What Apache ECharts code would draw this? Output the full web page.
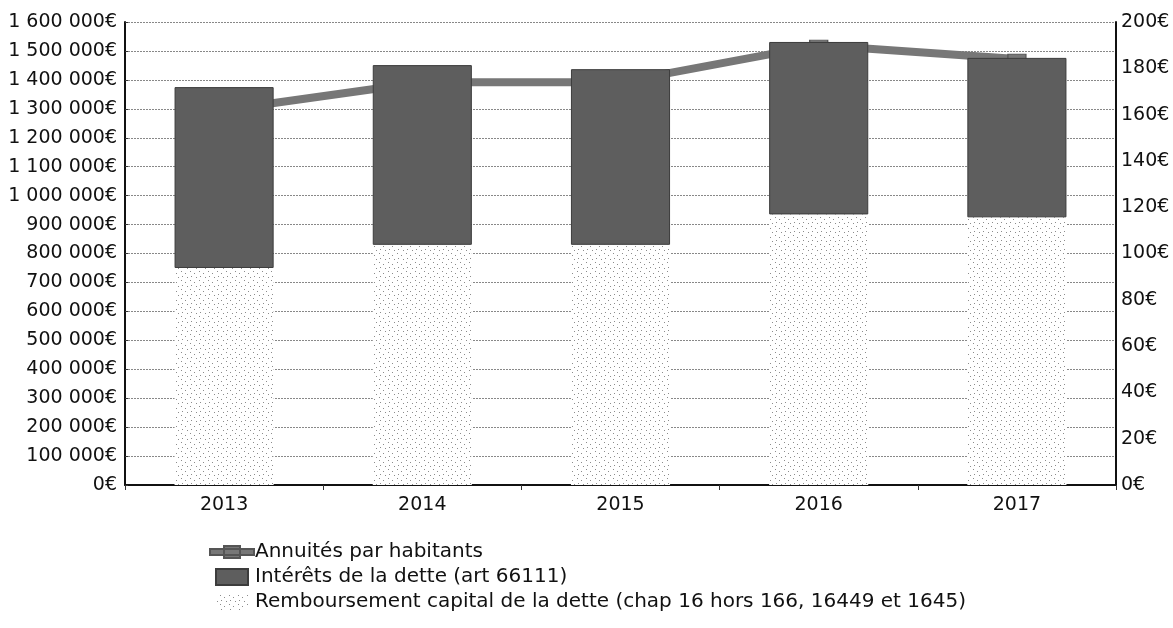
<!DOCTYPE html>
<html>
<head>
<meta charset="utf-8">
<script src="https://cdn.jsdelivr.net/npm/echarts@6/dist/echarts.min.js"></script>
<style>
  html, body { margin: 0; padding: 0; background: #fff; }
  #chart { width: 1173px; height: 628px; }
</style>
</head>
<body>
<div id="chart"></div>
<script>
var years = ['2013', '2014', '2015', '2016', '2017']
var capital = [750000, 830000, 830000, 935000, 925000]
var interets = [625000, 621000, 607000, 596000, 551000]
var annuites = [162, 174, 174, 190, 184]

var nameLine = 'Annuités par habitants'
var nameInt = 'Intérêts de la dette (art 66111)'
var nameCap = 'Remboursement capital de la dette (chap 16 hors 166, 16449 et 1645)'

function euros(v) {
  return String(v).replace(/\B(?=(\d{3})+(?!\d))/g, ' ') + '€'
}

// light dotted fill for the capital bars
function dotPattern() {
  var c = document.createElement('canvas')
  c.width = 9
  c.height = 9
  var ctx = c.getContext('2d')
  ctx.fillStyle = '#ffffff'
  ctx.fillRect(0, 0, 9, 9)
  ctx.fillStyle = '#8c8c8c'
  ctx.fillRect(1, 1, 1, 1)
  ctx.fillRect(5, 3, 1, 1)
  ctx.fillRect(2, 6, 1, 1)
  ctx.fillRect(7, 7, 1, 1)
  return c
}

var chart = echarts.init(document.getElementById('chart'))
var font = 'DejaVu Sans'

chart.setOption({
  animation: false,
  textStyle: { fontFamily: font },
  grid: { left: 125, right: 57, top: 22, bottom: 143 },
  legend: {
    orient: 'vertical',
    left: 204,
    top: 537,
    itemGap: 5,
    itemWidth: 44,
    itemHeight: 16,
    textStyle: { fontFamily: font, fontSize: 20, lineHeight: 20, color: '#111', padding: [0, 0, 0, -4] },
    data: [
      { name: nameLine, icon: 'path://M0,3H44V9H0Z M14,0H30V12H14Z' },
      { name: nameInt, icon: 'path://M6,0H38V16H6Z' },
      { name: nameCap, icon: 'path://M6,0H38V16H6Z' }
    ]
  },
  xAxis: {
    type: 'category',
    data: years,
    axisLine: { lineStyle: { color: '#111', width: 2 } },
    axisTick: { show: true, length: 5, lineStyle: { color: '#333' } },
    axisLabel: { fontSize: 19, color: '#111', margin: 11 },
    splitLine: { show: false }
  },
  yAxis: [
    {
      type: 'value',
      min: 0,
      max: 1600000,
      interval: 100000,
      axisLine: { show: true, lineStyle: { color: '#111', width: 2 } },
      axisTick: { show: true, inside: true, length: 3, lineStyle: { color: '#333' } },
      axisLabel: { fontSize: 19, color: '#111', margin: 8, formatter: euros },
      splitLine: { show: true, lineStyle: { color: '#888', type: [2, 1], width: 1 } }
    },
    {
      type: 'value',
      min: 0,
      max: 200,
      interval: 20,
      position: 'right',
      axisLine: { show: true, lineStyle: { color: '#111', width: 2 } },
      axisTick: { show: false },
      axisLabel: { fontSize: 19, color: '#111', margin: 5, formatter: '{value}€' },
      splitLine: { show: false }
    }
  ],
  series: [
    {
      name: nameLine,
      type: 'line',
      yAxisIndex: 1,
      z: 1,
      data: annuites,
      symbol: 'rect',
      symbolSize: [18, 10],
      lineStyle: { color: '#777', width: 8 },
      itemStyle: { color: '#777', borderColor: '#555', borderWidth: 1 }
    },
    {
      name: nameCap,
      type: 'bar',
      stack: 'dette',
      z: 3,
      barWidth: '50%',
      data: capital,
      itemStyle: { color: { image: dotPattern(), repeat: 'repeat' } }
    },
    {
      name: nameInt,
      type: 'bar',
      stack: 'dette',
      z: 3,
      barWidth: '50%',
      data: interets,
      itemStyle: { color: '#5e5e5e', borderColor: '#3c3c3c', borderWidth: 1 }
    }
  ]
})
</script>
</body>
</html>
